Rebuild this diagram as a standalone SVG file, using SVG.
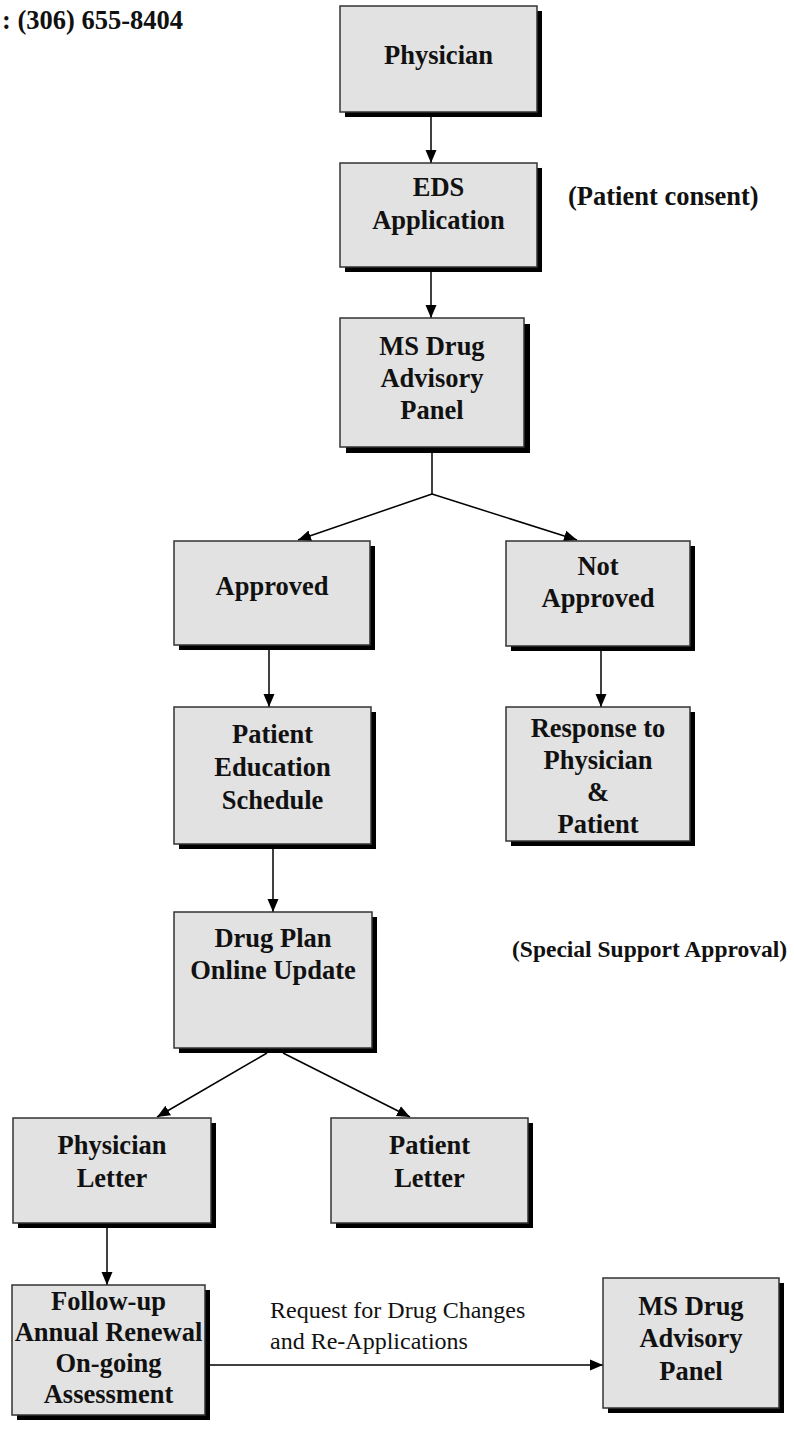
<svg xmlns="http://www.w3.org/2000/svg" width="794" height="1435" viewBox="0 0 794 1435">
<style>
.box{fill:#e2e2e2;stroke:#333;stroke-width:1.5}
.sh{fill:#000}
.t{font-family:"Liberation Serif","Times New Roman",serif;font-weight:bold;font-size:26.5px;text-anchor:middle;fill:#111}
.side{font-family:"Liberation Serif","Times New Roman",serif;font-weight:bold;font-size:26.5px;fill:#111}
.reg{font-family:"Liberation Serif","Times New Roman",serif;font-size:24px;fill:#111}
.c{stroke:#000;stroke-width:1.5;fill:none}
</style>
<defs>
<marker id="ah" markerUnits="userSpaceOnUse" markerWidth="14" markerHeight="14" viewBox="0 0 14 14" refX="13" refY="7" orient="auto">
<path d="M0,1.5 L13,7 L0,12.5 Z" fill="#000"/>
</marker>
</defs>
<text class="side" x="2" y="29">:  (306) 655-8404</text>
<text class="side" x="568" y="205">(Patient consent)</text>
<text class="side" x="512" y="957" style="font-size:23.5px">(Special Support Approval)</text>
<g id="connectors">
<line class="c" x1="431" y1="117" x2="431" y2="163" marker-end="url(#ah)"/>
<line class="c" x1="431" y1="272" x2="431" y2="318" marker-end="url(#ah)"/>
<polyline class="c" points="432,452 432,494"/>
<line class="c" x1="432" y1="494" x2="298" y2="540" marker-end="url(#ah)"/>
<line class="c" x1="432" y1="494" x2="577" y2="540" marker-end="url(#ah)"/>
<line class="c" x1="269" y1="650" x2="269" y2="707" marker-end="url(#ah)"/>
<line class="c" x1="601" y1="651" x2="601" y2="707" marker-end="url(#ah)"/>
<line class="c" x1="273" y1="849" x2="273" y2="912" marker-end="url(#ah)"/>
<line class="c" x1="267" y1="1053" x2="157" y2="1117" marker-end="url(#ah)"/>
<line class="c" x1="283" y1="1053" x2="410" y2="1117" marker-end="url(#ah)"/>
<line class="c" x1="107" y1="1228" x2="107" y2="1285" marker-end="url(#ah)"/>
<line class="c" x1="205" y1="1365" x2="603" y2="1365" marker-end="url(#ah)"/>
<text class="reg" x="270" y="1318">Request for Drug Changes</text>
<text class="reg" x="270" y="1349">and Re-Applications</text>
</g>
<g id="physician">
<rect class="sh" x="345" y="11" width="197" height="106"/>
<rect class="box" x="340" y="6" width="197" height="106"/>
<text class="t" x="438.5" y="64">Physician</text>
</g>
<g id="eds">
<rect class="sh" x="345" y="168" width="197" height="104"/>
<rect class="box" x="340" y="163" width="197" height="104"/>
<text class="t" x="438.5" y="196">EDS</text>
<text class="t" x="438.5" y="229">Application</text>
</g>
<g id="panel1">
<rect class="sh" x="346" y="324" width="184" height="129"/>
<rect class="box" x="340" y="318" width="184" height="129"/>
<text class="t" x="432" y="355">MS Drug</text>
<text class="t" x="432" y="387">Advisory</text>
<text class="t" x="432" y="419">Panel</text>
</g>
<g id="approved">
<rect class="sh" x="179" y="546" width="196" height="104"/>
<rect class="box" x="174" y="541" width="196" height="104"/>
<text class="t" x="272" y="595">Approved</text>
</g>
<g id="notapproved">
<rect class="sh" x="511" y="546" width="184" height="105"/>
<rect class="box" x="506" y="541" width="184" height="105"/>
<text class="t" x="598" y="575">Not</text>
<text class="t" x="598" y="607">Approved</text>
</g>
<g id="education">
<rect class="sh" x="179" y="712" width="197" height="137"/>
<rect class="box" x="174" y="707" width="197" height="137"/>
<text class="t" x="272.5" y="743">Patient</text>
<text class="t" x="272.5" y="776">Education</text>
<text class="t" x="272.5" y="809">Schedule</text>
</g>
<g id="response">
<rect class="sh" x="511" y="712" width="184" height="134"/>
<rect class="box" x="506" y="707" width="184" height="134"/>
<text class="t" x="598" y="737">Response to</text>
<text class="t" x="598" y="769">Physician</text>
<text class="t" x="598" y="801">&amp;</text>
<text class="t" x="598" y="833">Patient</text>
</g>
<g id="drugplan">
<rect class="sh" x="179" y="917" width="198" height="136"/>
<rect class="box" x="174" y="912" width="198" height="136"/>
<text class="t" x="273" y="947">Drug Plan</text>
<text class="t" x="273" y="979">Online Update</text>
</g>
<g id="physletter">
<rect class="sh" x="18" y="1123" width="198" height="105"/>
<rect class="box" x="13" y="1118" width="198" height="105"/>
<text class="t" x="112" y="1154">Physician</text>
<text class="t" x="112" y="1187">Letter</text>
</g>
<g id="patletter">
<rect class="sh" x="336" y="1123" width="197" height="105"/>
<rect class="box" x="331" y="1118" width="197" height="105"/>
<text class="t" x="429.5" y="1154">Patient</text>
<text class="t" x="429.5" y="1187">Letter</text>
</g>
<g id="followup">
<rect class="sh" x="17" y="1290" width="193" height="130"/>
<rect class="box" x="12" y="1285" width="193" height="130"/>
<text class="t" x="108.5" y="1310">Follow-up</text>
<text class="t" x="108.5" y="1341">Annual Renewal</text>
<text class="t" x="108.5" y="1372">On-going</text>
<text class="t" x="108.5" y="1403">Assessment</text>
</g>
<g id="panel2">
<rect class="sh" x="608" y="1283" width="176" height="130"/>
<rect class="box" x="603" y="1278" width="176" height="130"/>
<text class="t" x="691" y="1315">MS Drug</text>
<text class="t" x="691" y="1347">Advisory</text>
<text class="t" x="691" y="1380">Panel</text>
</g>
</svg>
